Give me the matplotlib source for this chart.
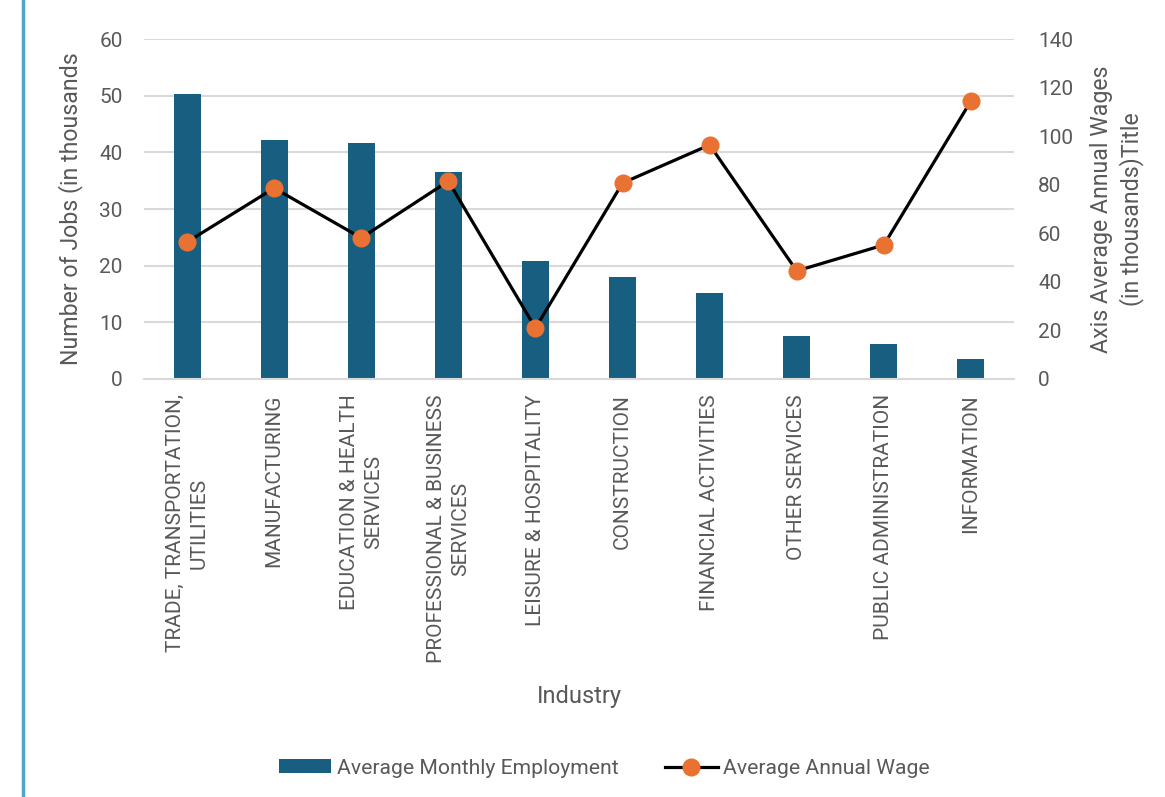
import numpy as np
import matplotlib.pyplot as plt
from matplotlib.lines import Line2D

plt.rcParams['font.family'] = ['Roboto', 'DejaVu Sans']

industries = ["TRADE, TRANSPORTATION,\nUTILITIES", "MANUFACTURING",
              "EDUCATION & HEALTH\nSERVICES", "PROFESSIONAL & BUSINESS\nSERVICES",
              "LEISURE & HOSPITALITY", "CONSTRUCTION", "FINANCIAL ACTIVITIES",
              "OTHER SERVICES", "PUBLIC ADMINISTRATION", "INFORMATION"]
employment = [50.3, 42.2, 41.7, 36.6, 20.8, 18.0, 15.2, 7.6, 6.2, 3.5]
wages = [56.4, 78.6, 58.1, 81.5, 21.0, 80.7, 96.4, 44.5, 55.2, 114.5]

gray = "#595959"
grid = "#d9d9d9"
bar_col = "#185e80"
orange = "#e97132"

fig = plt.figure(figsize=(11.65, 7.97), dpi=100)
ax = fig.add_axes([0.1232, 0.5245, 0.7476, 0.4265])
ax2 = ax.twinx()

x = np.arange(len(industries))
ax.bar(x, employment, width=0.31, color=bar_col, zorder=2,
       label="Average Monthly Employment")
ax2.plot(x, wages, color="black", lw=2.3, marker="o", markersize=12,
         markerfacecolor=orange, markeredgecolor=orange, zorder=3,
         label="Average Annual Wage")

ax.set_xlim(-0.5, len(industries) - 0.5)
ax.set_ylim(0, 60)
ax.set_yticks(range(0, 61, 10))
ax2.set_ylim(0, 140)
ax2.set_yticks(range(0, 141, 20))

ax.yaxis.grid(True, color=grid, lw=1.5, zorder=0)
ax.set_axisbelow(True)
for a in (ax, ax2):
    for s in a.spines.values():
        s.set_visible(False)
    a.tick_params(length=0, labelsize=15, colors=gray)
ax.spines['bottom'].set_visible(True)
ax.spines['bottom'].set_color(grid)
ax.spines['bottom'].set_linewidth(1.5)
ax.tick_params(axis='y', pad=15)
ax2.tick_params(axis='y', pad=17)

ax.set_xticks(x)
ax.set_xticklabels(industries, rotation=90, fontsize=15, color=gray,
                   ha='center', va='top', multialignment='center',
                   linespacing=1.35)
ax.tick_params(axis='x', pad=11)

ax.set_ylabel("Number of Jobs (in thousands", fontsize=16.7, color=gray, labelpad=12)
ax2.set_ylabel("Axis Average Annual Wages\n(in thousands)Title", fontsize=16.7,
               color=gray, labelpad=12, multialignment='center', linespacing=1.3)
ax.set_xlabel("Industry", fontsize=17, color=gray, labelpad=16)

h1, l1 = ax.get_legend_handles_labels()
h2, l2 = ax2.get_legend_handles_labels()
fig.legend(h1 + h2, l1 + l2, loc='center', bbox_to_anchor=(0.5185, 0.036),
           ncol=2, frameon=False, labelcolor=gray,
           handlelength=2.5, handleheight=0.65, columnspacing=2.2,
           handletextpad=0.25, prop={'size': 15.2})

fig.add_artist(Line2D([0.0195, 0.0195], [0, 1], color="#4ea6cc", lw=2.5,
                      transform=fig.transFigure))

fig.savefig("out.png", dpi=100, facecolor="white")
